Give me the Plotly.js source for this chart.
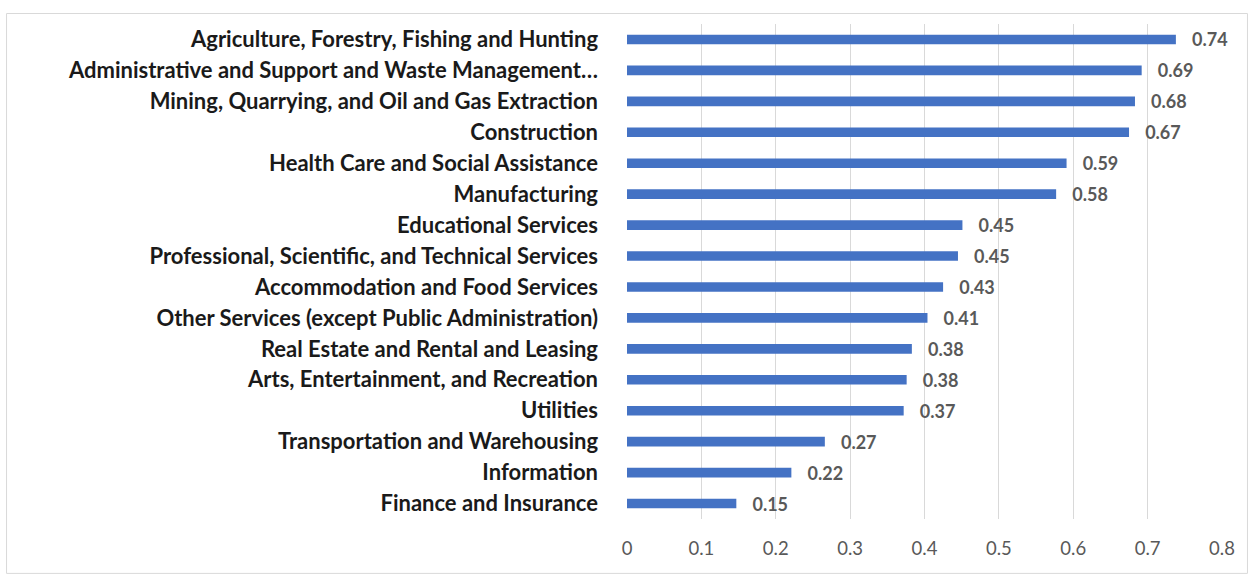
<!DOCTYPE html>
<html>
<head>
<meta charset="utf-8">
<script src="https://cdn.plot.ly/plotly-3.0.1.min.js"></script>
<style>html,body{margin:0;padding:0;background:#fff;}#chart{width:1251px;height:577px;}</style>
</head>
<body>
<div id="chart"></div>
<script>
const industries = [
  "Agriculture, Forestry, Fishing and Hunting",
  "Administrative and Support and Waste Management…",
  "Mining, Quarrying, and Oil and Gas Extraction",
  "Construction",
  "Health Care and Social Assistance",
  "Manufacturing",
  "Educational Services",
  "Professional, Scientific, and Technical Services",
  "Accommodation and Food Services",
  "Other Services (except Public Administration)",
  "Real Estate and Rental and Leasing",
  "Arts, Entertainment, and Recreation",
  "Utilities",
  "Transportation and Warehousing",
  "Information",
  "Finance and Insurance"
];
const values = [0.738, 0.692, 0.683, 0.675, 0.591, 0.577, 0.451, 0.445, 0.425, 0.404, 0.383, 0.376, 0.372, 0.266, 0.221, 0.147];
const valueLabels = ["0.74","0.69","0.68","0.67","0.59","0.58","0.45","0.45","0.43","0.41","0.38","0.38","0.37","0.27","0.22","0.15"];
const xTicks = [0, 0.1, 0.2, 0.3, 0.4, 0.5, 0.6, 0.7, 0.8];
const xTickText = ["0","0.1","0.2","0.3","0.4","0.5","0.6","0.7","0.8"];

const pad = "\u00a0\u00a0\u00a0";
const trace = {
  type: "bar",
  orientation: "h",
  y: industries,
  x: values,
  width: 0.31,
  marker: {color: "#4472C4"},
  text: valueLabels.map(t => pad + t),
  textposition: "outside",
  constraintext: "none",
  cliponaxis: false,
  textfont: {family: "Lato, 'Open Sans', sans-serif", size: 18, color: "#595959", weight: 700},
  hoverinfo: "none"
};

const L = 626.5, R = 1222.5, T = 23.5, B = 519.5;
const W = R - L, H = B - T;
const layout = {
  width: 1251, height: 577,
  margin: {l: L, r: 1251 - R, t: T, b: 577 - B, pad: 0},
  paper_bgcolor: "#ffffff",
  plot_bgcolor: "#ffffff",
  showlegend: false,
  xaxis: {
    range: [0, 0.8],
    tickvals: xTicks,
    ticktext: xTickText,
    showgrid: true,
    gridcolor: "#d9d9d9",
    gridwidth: 1,
    zeroline: false,
    showline: false,
    ticks: "",
    ticklabelstandoff: 16,
    tickfont: {family: "Lato, 'Open Sans', sans-serif", size: 18.5, color: "#595959"},
    fixedrange: true
  },
  yaxis: {
    type: "category",
    autorange: "reversed",
    showgrid: false,
    zeroline: false,
    showline: false,
    ticks: "",
    ticklabelstandoff: 28,
    tickfont: {family: "Lato, 'Open Sans', sans-serif", size: 22, color: "#1a1a1a", weight: 700},
    fixedrange: true
  },
  shapes: [{
    type: "rect", xref: "paper", yref: "paper",
    x0: (5 - L) / W, x1: (1248 - L) / W,
    y0: (B - 574) / H, y1: (B - 13) / H,
    line: {color: "#d9d9d9", width: 1},
    fillcolor: "rgba(0,0,0,0)",
    layer: "below"
  }]
};

Plotly.newPlot("chart", [trace], layout, {displayModeBar: false, staticPlot: true});
</script>
</body>
</html>
